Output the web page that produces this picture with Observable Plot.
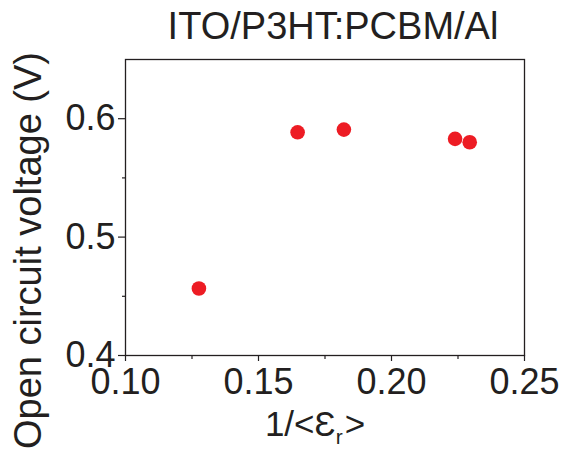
<!DOCTYPE html>
<html>
<head>
<meta charset="utf-8">
<script src="https://cdn.jsdelivr.net/npm/d3@7"></script>
<script src="https://cdn.jsdelivr.net/npm/@observablehq/plot@0.6"></script>
<style>
  html, body { margin: 0; padding: 0; background: #fff; }
  svg { display: block; }
</style>
</head>
<body>
<div id="chart"></div>
<script>
// Data
const invEps = [0.1276, 0.1647, 0.1821, 0.2239, 0.2294];
const voc = [0.4566, 0.5885, 0.5908, 0.5830, 0.5801];
const xTicks = [0.10, 0.15, 0.20, 0.25];
const xMinor = [0.125, 0.175, 0.225];
const yTicks = [0.4, 0.5, 0.6];
const yMinor = [0.45, 0.55];
const title = "ITO/P3HT:PCBM/Al";
const xLabel = "1/<Ɛr>";
const yLabel = "Open circuit voltage (V)";

const data = invEps.map((x, i) => ({x, y: voc[i]}));
const ink = "#231f20";
const font = "Liberation Sans, Arial, Helvetica, sans-serif";

const chart = Plot.plot({
  width: 564,
  height: 455,
  marginLeft: 125,
  marginRight: 40,
  marginTop: 59,
  marginBottom: 100,
  style: {fontFamily: font, color: ink, background: "#fff"},
  x: {domain: [0.10, 0.25]},
  y: {domain: [0.4, 0.65]},
  marks: [
    Plot.frame({stroke: ink, strokeWidth: 1.3}),
    Plot.axisX({ticks: xTicks, tickFormat: d3.format(".2f"), tickSize: 6, tickPadding: 7, fontSize: 36, label: null, stroke: ink, strokeWidth: 1.2}),
    Plot.axisX({ticks: xMinor, tickFormat: () => "", tickSize: 4, label: null, stroke: ink, strokeWidth: 1.2}),
    Plot.axisY({ticks: yTicks, tickFormat: d3.format(".1f"), tickSize: 7, tickPadding: 3, fontSize: 36, label: null, stroke: ink, strokeWidth: 1.2}),
    Plot.axisY({ticks: yMinor, tickFormat: () => "", tickSize: 3, label: null, stroke: ink, strokeWidth: 1.2}),
    Plot.dot(data, {x: "x", y: "y", r: 7.3, fill: "#ed1c24", stroke: "none"}),
    Plot.text([title], {frameAnchor: "top", dx: 8, dy: -33, fontSize: 38, fill: ink, lineAnchor: "middle"}),
    Plot.text([xLabel], {frameAnchor: "bottom", dx: -10, dy: 80, fontSize: 35, fill: ink, textAnchor: "middle"}),
    Plot.text([yLabel], {frameAnchor: "left", dx: -97, dy: 43, rotate: -90, fontSize: 38, fill: ink, textAnchor: "middle"})
  ]
});

// subscript r in the x label
d3.select(chart).selectAll("text").filter(function() { return this.textContent === xLabel; })
  .each(function() {
    const t = d3.select(this);
    t.text(null);
    t.append("tspan").text("1/<Ɛ");
    t.append("tspan").attr("font-size", "0.6em").attr("baseline-shift", "-40%").text("r");
    t.append("tspan").attr("dx", "2").text(">");
  });

document.getElementById("chart").appendChild(chart);
</script>
</body>
</html>
